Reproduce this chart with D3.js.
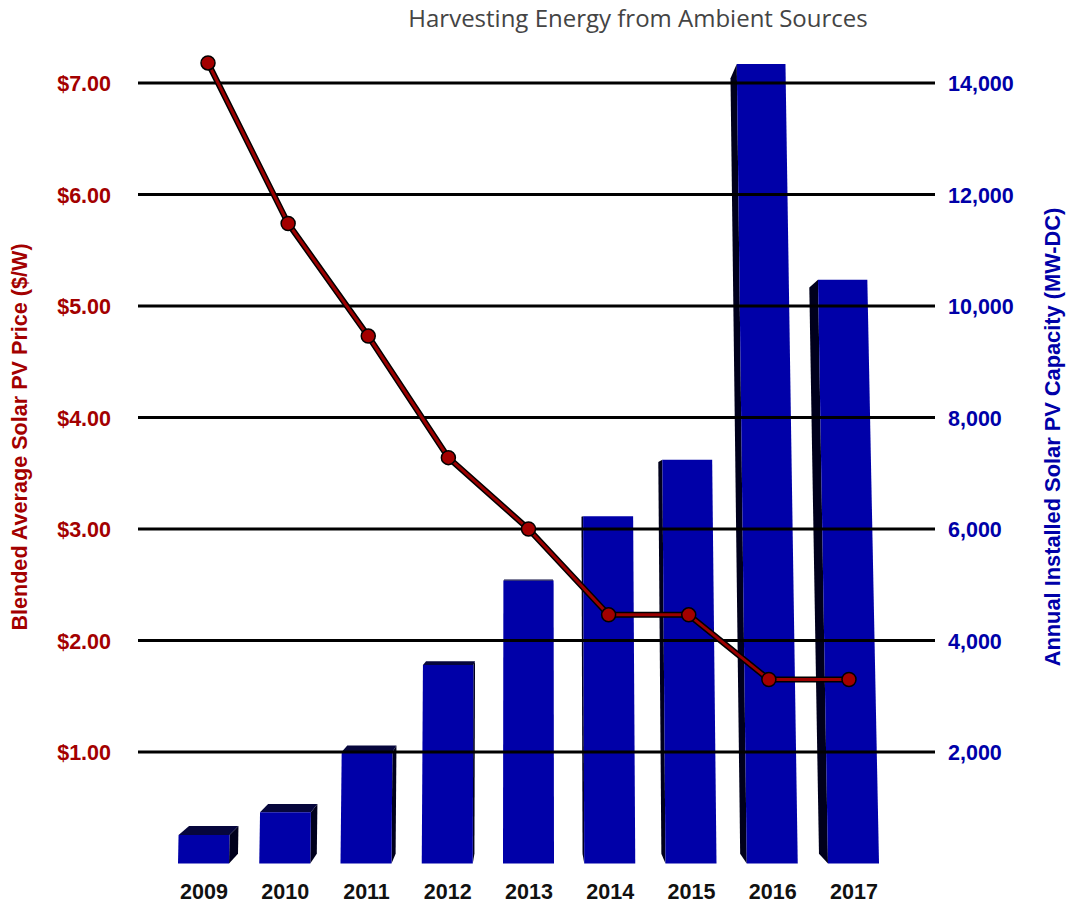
<!DOCTYPE html>
<html>
<head>
<meta charset="utf-8">
<script src="https://cdn.jsdelivr.net/npm/d3@7/dist/d3.min.js"></script>
<style>
  html, body { margin: 0; padding: 0; background: #fff; }
  svg { display: block; }
</style>
</head>
<body>
<svg id="chart" width="1069" height="909"></svg>
<script>
// Installation years
const years = ["2009", "2010", "2011", "2012", "2013", "2014", "2015", "2016", "2017"];
// Annual installed solar PV capacity, MW-DC
const capacity = [510, 920, 2000, 3560, 5070, 6230, 7240, 14340, 10470];
// Blended average solar PV price, $/W
const price = [7.18, 5.74, 4.73, 3.64, 3.00, 2.23, 2.23, 1.65, 1.65];
// Axis ticks
const priceTicks = [1, 2, 3, 4, 5, 6, 7];
const capacityTicks = [2000, 4000, 6000, 8000, 10000, 12000, 14000];

const title = "Harvesting Energy from Ambient Sources";
const leftTitle = "Blended Average Solar PV Price ($/W)";
const rightTitle = "Annual Installed Solar PV Capacity (MW-DC)";

const RED = "#a30000";
const BLUE = "#0000a8";
const SANS = "'Liberation Sans', Arial, sans-serif";

const svg = d3.select("#chart");

// Shared vertical layout: $1 == 2,000 MW
const yCap = d3.scaleLinear().domain([0, 14000]).range([863.5, 83]);
const yPrice = d3.scaleLinear().domain([0, 7]).range([863.5, 83]);

// Bars: band positions along the floor line
const xBand = d3.scaleBand().domain(years).range([178, 879]).paddingInner(0.372).paddingOuter(0);
// Line points
const xPoint = d3.scalePoint().domain(years).range([208, 849]);

// Perspective used for the 3D columns
const base = yCap(0);
const vp = { x: 528, y: 535 };   // vanishing point
const depth = 0.03;              // back-face shrink toward vp
const tilt = 5.7e-5;             // upward convergence of vertical edges

function proj(xb, v, back) {
  let Y = yCap(v);
  let X = vp.x + (xb - vp.x) * (1 - tilt * (base - Y));
  if (back) {
    X = vp.x + (X - vp.x) * (1 - depth);
    Y = vp.y + (Y - vp.y) * (1 - depth);
  }
  return [X, Y];
}

const bars = svg.append("g").attr("class", "bars");
years.forEach((yr, i) => {
  const xl = xBand(yr), xr = xl + xBand.bandwidth(), v = capacity[i];
  const fBL = proj(xl, 0, false), fBR = proj(xr, 0, false);
  const fTL = proj(xl, v, false), fTR = proj(xr, v, false);
  const bBL = proj(xl, 0, true), bBR = proj(xr, 0, true);
  const bTL = proj(xl, v, true), bTR = proj(xr, v, true);
  const g = bars.append("g");
  const poly = pts => "M" + pts.map(p => p.join(",")).join("L") + "Z";
  if (fTR[0] < vp.x - 2) {
    g.append("path").attr("d", poly([fBR, fTR, bTR, bBR])).attr("fill", "#00001c");
  } else if (fTL[0] > vp.x + 2) {
    g.append("path").attr("d", poly([fBL, fTL, bTL, bBL])).attr("fill", "#00001c");
  }
  if (fTL[1] > vp.y) {
    g.append("path").attr("d", poly([fTL, fTR, bTR, bTL])).attr("fill", "#06063c");
  }
  g.append("path").attr("d", poly([fBL, fTL, fTR, fBR])).attr("fill", BLUE);
});

// Horizontal gridlines
svg.append("g").selectAll("line").data(priceTicks).join("line")
  .attr("x1", 138).attr("x2", 935)
  .attr("y1", d => yPrice(d)).attr("y2", d => yPrice(d))
  .attr("stroke", "#000").attr("stroke-width", 3);

// Left axis (price)
const leftAxis = d3.axisLeft(yPrice).tickValues(priceTicks)
  .tickFormat(d => "$" + d3.format(".2f")(d)).tickSize(0).tickPadding(0);
const gl = svg.append("g").attr("transform", "translate(111,1)").call(leftAxis);
gl.select(".domain").remove();
gl.selectAll("text").attr("fill", RED)
  .style("font-family", SANS)
  .style("font-weight", "bold").style("font-size", "21.5px");

// Right axis (capacity)
const rightAxis = d3.axisRight(yCap).tickValues(capacityTicks)
  .tickFormat(d3.format(",")).tickSize(0).tickPadding(0);
const gr = svg.append("g").attr("transform", "translate(948,1)").call(rightAxis);
gr.select(".domain").remove();
gr.selectAll("text").attr("fill", BLUE)
  .style("font-family", SANS)
  .style("font-weight", "bold").style("font-size", "21.5px");

// Bottom axis (years), centred under the column floors
const bottomAxis = d3.axisBottom(d3.scalePoint().domain(years)
  .range([xBand("2009") + xBand.bandwidth() / 2, xBand("2017") + xBand.bandwidth() / 2]))
  .tickSize(0).tickPadding(0);
const gb = svg.append("g").attr("transform", "translate(0,884)").call(bottomAxis);
gb.select(".domain").remove();
gb.selectAll("text").attr("fill", "#111")
  .style("font-family", SANS)
  .style("font-weight", "bold").style("font-size", "21.5px");

// Axis titles
svg.append("text")
  .attr("transform", "translate(27,437) rotate(-90)")
  .attr("text-anchor", "middle")
  .attr("fill", RED)
  .style("font-family", SANS)
  .style("font-weight", "bold").style("font-size", "21.6px")
  .text(leftTitle);

svg.append("text")
  .attr("transform", "translate(1060,437) rotate(-90)")
  .attr("text-anchor", "middle")
  .attr("fill", BLUE)
  .style("font-family", SANS)
  .style("font-weight", "bold").style("font-size", "21.8px")
  .text(rightTitle);

// Price line
const line = d3.line().x((d, i) => xPoint(years[i])).y(d => yPrice(d));
svg.append("path").datum(price).attr("d", line)
  .attr("fill", "none").attr("stroke", "#000").attr("stroke-width", 6)
  .attr("stroke-linejoin", "round");
svg.append("path").datum(price).attr("d", line)
  .attr("fill", "none").attr("stroke", "#9b0000").attr("stroke-width", 3)
  .attr("stroke-linejoin", "round");
svg.append("g").selectAll("circle").data(price).join("circle")
  .attr("cx", (d, i) => xPoint(years[i])).attr("cy", d => yPrice(d))
  .attr("r", 7).attr("fill", "#a30000").attr("stroke", "#000").attr("stroke-width", 1.5);

// Title
svg.append("text")
  .attr("x", 638).attr("y", 27)
  .attr("text-anchor", "middle")
  .attr("fill", "#444")
  .style("font-family", "'Open Sans', sans-serif")
  .style("font-size", "24px")
  .text(title);
</script>
</body>
</html>
